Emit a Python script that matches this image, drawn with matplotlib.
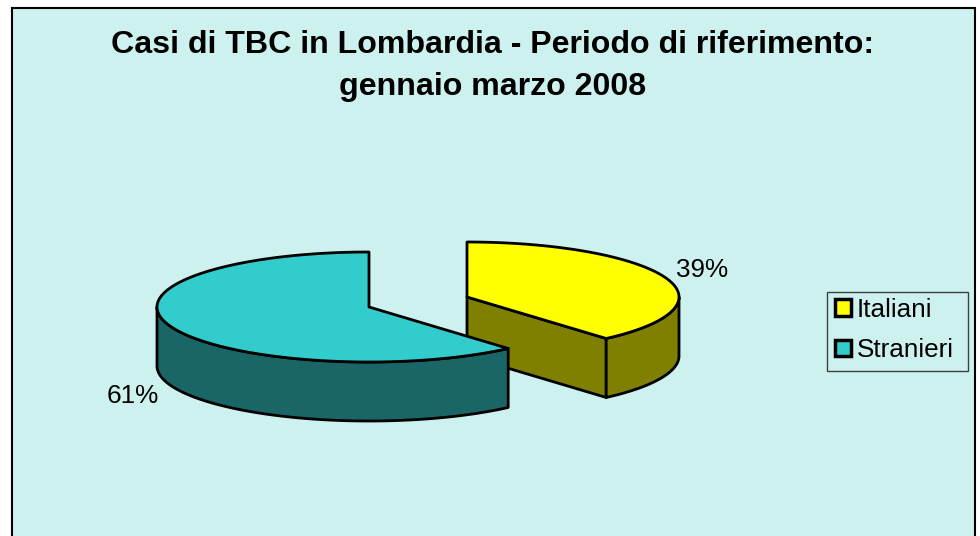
#!/bin/env python3

import numpy as np
import matplotlib
matplotlib.use("Agg")
import matplotlib.pyplot as plt
from matplotlib.patches import Patch, Polygon, Rectangle

plt.rcParams['font.family'] = ['Liberation Sans', 'DejaVu Sans']

title = "Casi di TBC in Lombardia - Periodo di riferimento:\ngennaio marzo 2008"
categories = ["Italiani", "Stranieri"]
shares = [38.6, 61.4]

top_colors = ["#FFFF00", "#33CCCC"]
side_colors = ["#808000", "#1A6666"]
bg_color = "#CCF1EE"

# pie geometry in pixels
rx = 212
ry = 55
depth = 59
centers = [(467, 297), (369, 307)]
label_pos = [(702, 270), (133, 396)]


def ellipse(cx, cy, a0, a1):
    # angles in degrees, clockwise from the top
    t = np.radians(np.linspace(a0, a1, 200))
    return np.column_stack([cx + rx * np.sin(t), cy - ry * np.cos(t)])


def draw_slice(ax, cx, cy, a0, a1, top, side):
    lw = 2.0
    # outer wall, only the part facing the viewer
    w0, w1 = max(a0, 90), min(a1, 270)
    rim = ellipse(cx, cy, w0, w1)
    wall = np.vstack([rim, (rim + [0, depth])[::-1]])
    # cut face, only when it looks to the left and down
    if a1 < 180:
        tip = ellipse(cx, cy, a1, a1)[0]
        face = [(cx, cy), tip, tip + [0, depth], (cx, cy + depth)]
        ax.add_patch(Polygon(face, closed=True, fc=side, ec="black", lw=lw, joinstyle="round"))
    ax.add_patch(Polygon(wall, closed=True, fc=side, ec="black", lw=lw, joinstyle="round"))
    outline = np.vstack([[(cx, cy)], ellipse(cx, cy, a0, a1)])
    ax.add_patch(Polygon(outline, closed=True, fc=top, ec="black", lw=lw, joinstyle="round"))


fig = plt.figure(figsize=(9.8, 5.36), dpi=100, facecolor="white")
ax = fig.add_axes([0, 0, 1, 1])
ax.set_xlim(0, 980)
ax.set_ylim(536, 0)
ax.axis("off")

# chart area, runs off the bottom of the picture
ax.add_patch(Rectangle((11.5, 7.5), 963, 540, fc=bg_color, ec="black", lw=1.5))

ax.text(493, 66, title, ha="center", va="center", fontsize=23.1, fontweight="bold",
        linespacing=1.48, color="black")

start = 0
for i in range(len(shares)):
    end = start + shares[i] * 3.6
    draw_slice(ax, centers[i][0], centers[i][1], start, end, top_colors[i], side_colors[i])
    ax.text(label_pos[i][0], label_pos[i][1], f"{round(shares[i])}%", ha="center", va="center",
            fontsize=18.8, color="black")
    start = end

# legend frame is drawn apart so the entries can sit where they do in the original
ax.add_patch(Rectangle((827, 292), 141, 79, fc=bg_color, ec="#404040", lw=1.0))
handles = [Patch(fc=top_colors[i], ec="black", lw=2.5, label=categories[i]) for i in range(len(categories))]
leg = ax.legend(handles=handles, loc="upper left", bbox_to_anchor=(835, 298), bbox_transform=ax.transData,
                fontsize=18.8, frameon=False, handlelength=0.62, handleheight=0.62, handletextpad=0.22,
                borderpad=0, labelspacing=0.62, borderaxespad=0)

fig.savefig("out.png", dpi=100, facecolor="white")
